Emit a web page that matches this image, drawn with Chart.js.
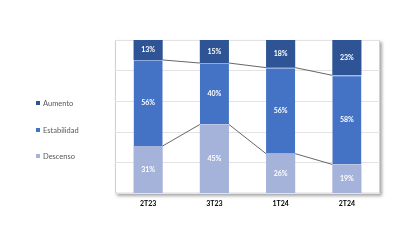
<!DOCTYPE html>
<html lang="es">
<head>
  <meta charset="UTF-8" />
  <title>Evolución</title>
  <style>
    html, body { margin: 0; padding: 0; background: #fff; }
    body { font-family: Lato, "Open Sans", sans-serif; }
    .wrap { position: relative; width: 420px; height: 240px; }
    #legend { position: absolute; left: 36px; top: 0; font-size: 7.5px; color: #595959; }
    #legend div { position: absolute; white-space: nowrap; line-height: 8px; }
    #legend span { display: inline-block; width: 4px; height: 4px; margin-right: 3px; vertical-align: 1px; }
  </style>
</head>
<body>
  <div class="wrap">
    <canvas id="chart" width="420" height="240"></canvas>
    <div id="legend"></div>
  </div>

  <script src="https://cdn.jsdelivr.net/npm/chart.js"></script>
  <script>
    const quarters = ['2T23', '3T23', '1T24', '2T24'];
    const descenso = [31, 45, 26, 19];
    const estabilidad = [56, 40, 56, 58];
    const aumento = [13, 15, 18, 23];

    const colors = { aumento: '#2f5496', estabilidad: '#4472c4', descenso: '#a5b2da' };

    // plot area white box with a soft shadow (like the Excel original)
    const plotBox = {
      id: 'plotBox',
      beforeDraw(chart) {
        const a = chart.chartArea, ctx = chart.ctx;
        ctx.save();
        ctx.shadowColor = 'rgba(0,0,0,0.35)';
        ctx.shadowBlur = 3;
        ctx.shadowOffsetX = 2;
        ctx.shadowOffsetY = 2;
        ctx.fillStyle = '#fff';
        ctx.fillRect(a.left, a.top, a.right - a.left, a.bottom - a.top);
        ctx.restore();
        ctx.save();
        ctx.strokeStyle = '#d0d0d0';
        ctx.lineWidth = 1;
        ctx.strokeRect(a.left + 0.5, a.top + 0.5, a.right - a.left - 1, a.bottom - a.top - 1);
        ctx.restore();
      }
    };

    // series lines between the tops of the lower two stacks
    const seriesLines = {
      id: 'seriesLines',
      afterDatasetsDraw(chart) {
        const ctx = chart.ctx;
        ctx.save();
        ctx.strokeStyle = '#404040';
        ctx.lineWidth = 0.8;
        [0, 1].forEach(di => {
          const bars = chart.getDatasetMeta(di).data;
          for (let i = 0; i < bars.length - 1; i++) {
            const b1 = bars[i], b2 = bars[i + 1];
            ctx.beginPath();
            ctx.moveTo(b1.x + b1.width / 2, b1.y);
            ctx.lineTo(b2.x - b2.width / 2, b2.y);
            ctx.stroke();
          }
        });
        ctx.restore();
      }
    };

    // percentage labels in the middle of each segment
    const segLabels = {
      id: 'segLabels',
      afterDatasetsDraw(chart) {
        const ctx = chart.ctx;
        ctx.save();
        ctx.fillStyle = '#fff';
        ctx.font = 'bold 7px Lato, sans-serif';
        ctx.textAlign = 'center';
        ctx.textBaseline = 'middle';
        chart.data.datasets.forEach((ds, di) => {
          chart.getDatasetMeta(di).data.forEach((bar, i) => {
            ctx.fillText(ds.data[i] + '%', bar.x, (bar.y + bar.base) / 2);
          });
        });
        ctx.restore();
      }
    };

    const chart = new Chart(document.getElementById('chart'), {
      type: 'bar',
      data: {
        labels: quarters,
        datasets: [
          { label: 'Descenso', data: descenso, backgroundColor: colors.descenso, borderWidth: 0 },
          { label: 'Estabilidad', data: estabilidad, backgroundColor: colors.estabilidad,
            borderColor: '#8faadc', borderWidth: { top: 1, left: 0, right: 0, bottom: 0 }, borderSkipped: false },
          { label: 'Aumento', data: aumento, backgroundColor: colors.aumento, borderWidth: 0 }
        ]
      },
      options: {
        responsive: false,
        animation: false,
        layout: { padding: { left: 115, right: 40, top: 40, bottom: 26 } },
        datasets: { bar: { categoryPercentage: 1, barPercentage: 0.44 } },
        plugins: { legend: { display: false }, tooltip: { enabled: false } },
        scales: {
          x: {
            stacked: true,
            grid: { display: false, drawTicks: false },
            border: { display: false },
            ticks: { color: '#000', font: { family: 'Lato', size: 7, weight: 'bold' }, padding: 6 }
          },
          y: {
            stacked: true,
            min: 0, max: 100,
            ticks: { display: false, stepSize: 20 },
            grid: { color: '#e3e3e3', drawTicks: false },
            border: { display: false }
          }
        }
      },
      plugins: [plotBox, seriesLines, segLabels]
    });

    // legend on the left, top-to-bottom in stack order
    const legend = document.getElementById('legend');
    [...chart.data.datasets].reverse().forEach((ds, i) => {
      const d = document.createElement('div');
      d.style.top = (100 + i * 26.5) + 'px';
      d.innerHTML = '<span style="background:' + ds.backgroundColor + '"></span>' + ds.label;
      legend.appendChild(d);
    });
  </script>
</body>
</html>
